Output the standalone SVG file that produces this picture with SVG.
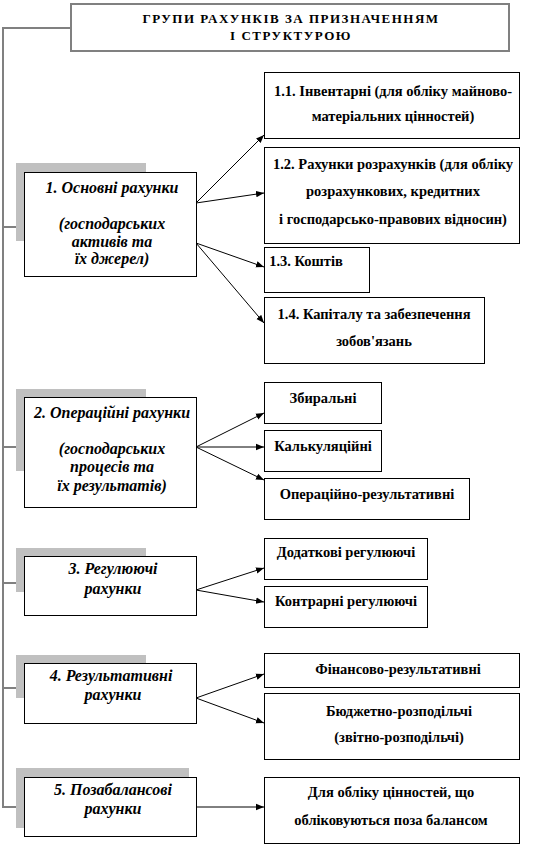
<svg xmlns="http://www.w3.org/2000/svg" width="544" height="849" viewBox="0 0 544 849">
<style>
text{font-family:"Liberation Serif","Times New Roman",serif;font-weight:bold;font-size:14.5px;fill:#000;text-anchor:middle}
.it{font-style:italic;font-size:16px}
.title{font-size:13px;letter-spacing:1.5px}
.box{fill:#fff;stroke:#000;stroke-width:1}
.sh{fill:#c0c0c0}
.tr{fill:none;stroke:#808080;stroke-width:2}
.ar{fill:none;stroke:#000;stroke-width:1;marker-end:url(#ah)}
</style>
<defs>
<marker id="ah" viewBox="0 0 10 10" refX="10" refY="5" markerWidth="8" markerHeight="8" markerUnits="userSpaceOnUse" orient="auto">
<path d="M0,1 L10,5 L0,9 Z" fill="#000"/>
</marker>
</defs>
<g id="connectors">
<path class="tr" d="M71,28 H3 V807 H24"/>
<path class="tr" d="M3,227 H24 M3,447 H24 M3,583 H24 M3,688 H24"/>
<path class="ar" d="M196,203 L264,135"/>
<path class="ar" d="M196,203 L264,193"/>
<path class="ar" d="M196,243 L264,267"/>
<path class="ar" d="M196,243 L264,323"/>
<path class="ar" d="M196,447 L264,413"/>
<path class="ar" d="M196,447 L264,447"/>
<path class="ar" d="M196,447 L264,480"/>
<path class="ar" d="M196,590 L264,568"/>
<path class="ar" d="M196,590 L264,602"/>
<path class="ar" d="M196,698 L264,674"/>
<path class="ar" d="M196,698 L264,723"/>
<path class="ar" d="M196,807 L264,807"/>
</g>
<g id="title">
<rect x="71" y="4" width="438" height="47" fill="#fff" stroke="#808080" stroke-width="2"/>
<text class="title" x="291" y="23">ГРУПИ РАХУНКІВ ЗА ПРИЗНАЧЕННЯМ</text>
<text class="title" x="291" y="40">І  СТРУКТУРОЮ</text>
</g>
<g id="n1">
<rect class="sh" x="16" y="163" width="130" height="78"/>
<rect class="box" x="24.5" y="172.5" width="172" height="104"/>
<text class="it" x="112" y="193">1. Основні рахунки</text>
<text class="it" x="112" y="229">(господарських</text>
<text class="it" x="112" y="247">активів та</text>
<text class="it" x="112" y="264">їх джерел)</text>
</g>
<g id="n11">
<rect class="box" x="264.5" y="72.5" width="255" height="66"/>
<text x="393" y="96">1.1. Інвентарні (для обліку майново-</text>
<text x="393" y="121">матеріальних цінностей)</text>
</g>
<g id="n12">
<rect class="box" x="264.5" y="147.5" width="255" height="96"/>
<text x="393" y="169">1.2. Рахунки розрахунків  (для обліку</text>
<text x="393" y="196">розрахункових,  кредитних</text>
<text x="393" y="224">і господарсько-правових відносин)</text>
</g>
<g id="n13">
<rect class="box" x="264.5" y="247.5" width="105" height="45"/>
<text x="306" y="266">1.3. Коштів</text>
</g>
<g id="n14">
<rect class="box" x="264.5" y="297.5" width="220" height="66"/>
<text x="374" y="319">1.4. Капіталу та забезпечення</text>
<text x="374" y="346">зобов'язань</text>
</g>
<g id="n2">
<rect class="sh" x="16" y="389" width="130" height="82"/>
<rect class="box" x="24.5" y="397.5" width="172" height="110"/>
<text class="it" x="112" y="418">2. Операційні рахунки</text>
<text class="it" x="112" y="454">(господарських</text>
<text class="it" x="112" y="472">процесів та</text>
<text class="it" x="112" y="491">їх результатів)</text>
</g>
<g id="n21">
<rect class="box" x="264.5" y="382.5" width="117" height="41"/>
<text x="323" y="403">Збиральні</text>
</g>
<g id="n22">
<rect class="box" x="264.5" y="430.5" width="117" height="41"/>
<text x="323" y="451">Калькуляційні</text>
</g>
<g id="n23">
<rect class="box" x="264.5" y="478.5" width="205" height="41"/>
<text x="367" y="499">Операційно-результативні</text>
</g>
<g id="n3">
<rect class="sh" x="16" y="548" width="130" height="44"/>
<rect class="box" x="24.5" y="556.5" width="172" height="59"/>
<text class="it" x="113" y="574">3. Регулюючі</text>
<text class="it" x="113" y="594">рахунки</text>
</g>
<g id="n31">
<rect class="box" x="264.5" y="538.5" width="163" height="41"/>
<text x="346" y="557">Додаткові регулюючі</text>
</g>
<g id="n32">
<rect class="box" x="264.5" y="586.5" width="163" height="41"/>
<text x="346" y="606">Контрарні регулюючі</text>
</g>
<g id="n4">
<rect class="sh" x="16" y="655" width="130" height="43"/>
<rect class="box" x="24.5" y="663.5" width="172" height="60"/>
<text class="it" x="111" y="681">4. Результативні</text>
<text class="it" x="113" y="700">рахунки</text>
</g>
<g id="n41">
<rect class="box" x="264.5" y="653.5" width="255" height="34"/>
<text x="398" y="674">Фінансово-результативні</text>
</g>
<g id="n42">
<rect class="box" x="264.5" y="693.5" width="255" height="66"/>
<text x="399" y="716">Бюджетно-розподільчі</text>
<text x="399" y="742">(звітно-розподільчі)</text>
</g>
<g id="n5">
<rect class="sh" x="16" y="768" width="173" height="60"/>
<rect class="box" x="24.5" y="777.5" width="172" height="59"/>
<text class="it" x="113" y="795">5. Позабалансові</text>
<text class="it" x="113" y="814">рахунки</text>
</g>
<g id="n51">
<rect class="box" x="264.5" y="777.5" width="255" height="66"/>
<text x="391" y="797">Для обліку  цінностей, що</text>
<text x="391" y="825">обліковуються  поза балансом</text>
</g>
</svg>
